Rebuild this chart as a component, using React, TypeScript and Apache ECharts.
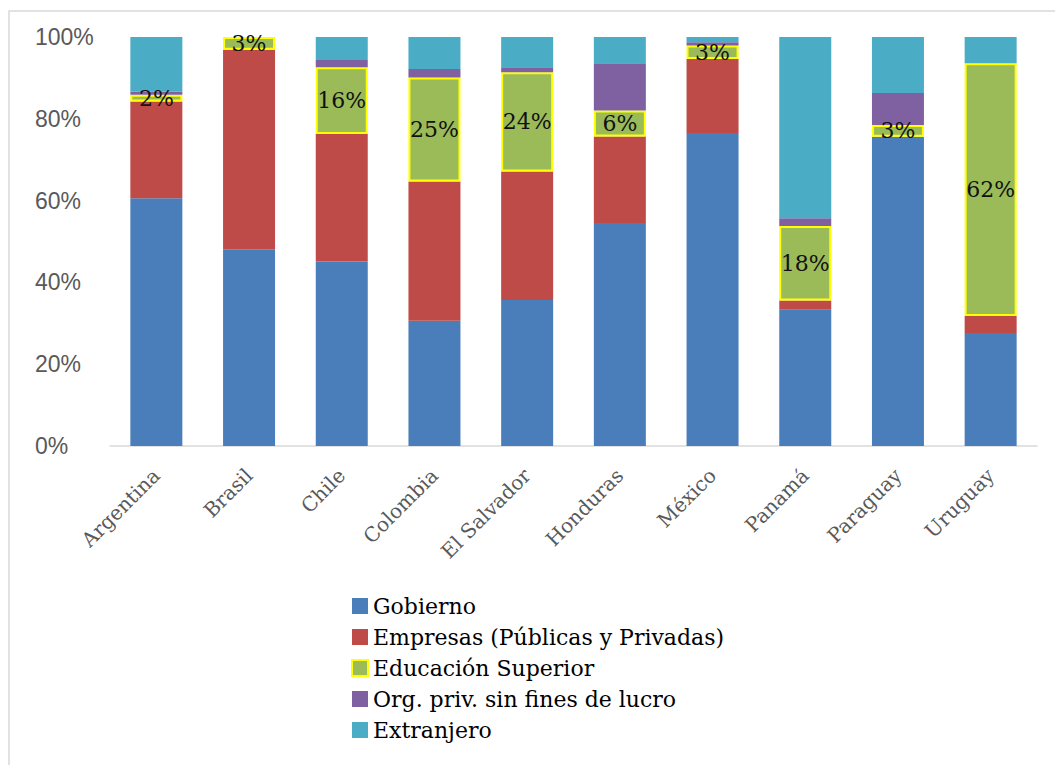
import React, { useEffect, useRef } from "react";
import * as echarts from "echarts";

const categories = ["Argentina", "Brasil", "Chile", "Colombia", "El Salvador", "Honduras", "México", "Panamá", "Paraguay", "Uruguay"];
const gobierno = [60.6, 48.1, 45.1, 30.6, 35.7, 54.5, 76.5, 33.3, 75.6, 27.6];
const empresas = [23.6, 48.8, 31.2, 34.1, 31.4, 21.2, 18.1, 2.3, 0, 4.2];
const educacion = [1.7, 3.1, 16.3, 25.4, 24.3, 6.3, 3.3, 18.2, 2.9, 61.8];
const orgPriv = [0.8, 0, 1.8, 2.1, 1.2, 11.6, 0.8, 1.9, 7.8, 0];
const extranjero = [13.3, 0, 5.6, 7.8, 7.4, 6.4, 1.3, 44.3, 13.7, 6.4];
const seriesNames = ["Gobierno", "Empresas (Públicas y Privadas)", "Educación Superior", "Org. priv. sin fines de lucro", "Extranjero"];
const colors = ["#4A7EBB", "#BE4B48", "#9BBB59", "#7F60A0", "#4BACC6"];

export default function App() {
  const ref = useRef<HTMLDivElement>(null);
  useEffect(() => {
    if (!ref.current) return;
    const chart = echarts.init(ref.current, null, { renderer: "svg" });
    const data = [gobierno, empresas, educacion, orgPriv, extranjero];
    chart.setOption({
      animation: false,
      backgroundColor: "#ffffff",
      graphic: [
        {
          type: "rect",
          shape: { x: 9, y: 11, width: 1200, height: 900 },
          style: { fill: "none", stroke: "#d9d9d9", lineWidth: 1.5 },
          silent: true,
        },
      ],
      grid: { left: 110, right: 18, top: 37, bottom: 319 },
      legend: {
        orient: "vertical",
        left: 346,
        top: 589,
        itemWidth: 16,
        itemHeight: 16,
        itemGap: 7,
        icon: "rect",
        textStyle: { fontFamily: "DejaVu Serif", fontSize: 22, color: "#000", lineHeight: 24 },
        data: seriesNames,
      },
      xAxis: {
        type: "category",
        data: categories,
        axisLine: { show: true, lineStyle: { color: "#d9d9d9", width: 1.5 } },
        axisTick: { show: false },
        axisLabel: {
          rotate: 45,
          margin: 26,
          interval: 0,
          fontFamily: "DejaVu Serif",
          fontSize: 20,
          color: "#595959",
        },
      },
      yAxis: {
        type: "value",
        min: 0,
        max: 100,
        interval: 20,
        splitLine: { show: false },
        axisLine: { show: false },
        axisTick: { show: false },
        axisLabel: {
          formatter: "{value}%",
          align: "left",
          margin: 75,
          padding: [4, 0, 0, 0],
          fontFamily: "Liberation Sans",
          fontSize: 23,
          color: "#595959",
        },
      },
      series: seriesNames.map((name, i) => ({
        name,
        type: "bar",
        stack: "total",
        barWidth: 52,
        data: data[i],
        itemStyle: i === 2
          ? { color: colors[i], borderColor: "#FFFF00", borderWidth: 2 }
          : { color: colors[i] },
        label: i === 2
          ? {
              show: true,
              position: "inside",
              formatter: (p: any) => Math.round(p.value) + "%",
              fontFamily: "DejaVu Serif",
              fontSize: 22,
              color: "#111",
            }
          : { show: false },
      })),
    });
    return () => chart.dispose();
  }, []);
  return <div ref={ref} style={{ position: "fixed", left: 0, top: 0, width: 1055, height: 765 }} />;
}
